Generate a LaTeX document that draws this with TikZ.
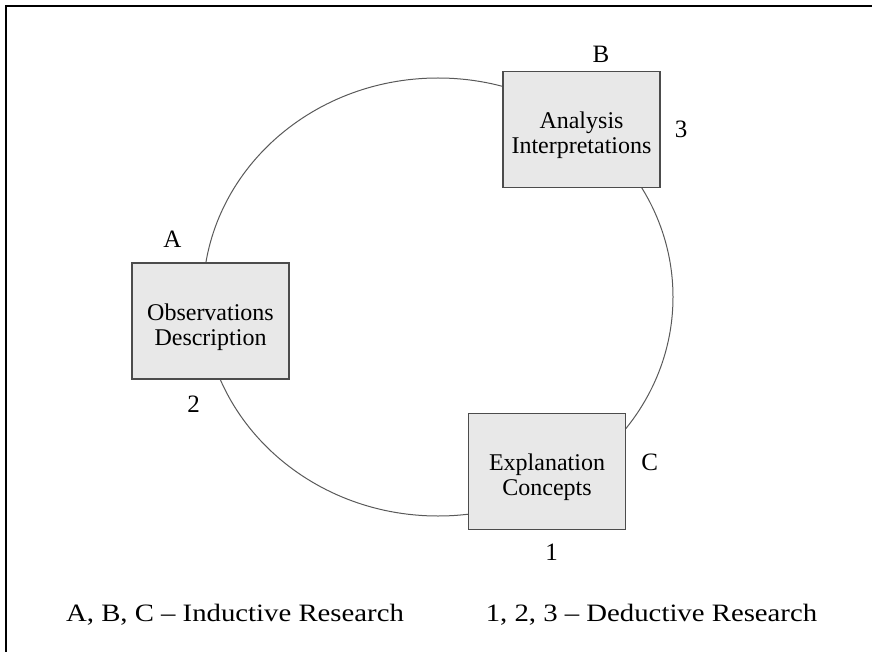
\documentclass[tikz,border=0pt]{standalone}
\usepackage{fontspec}
\setmainfont{Liberation Serif}
\newfontfamily\widefont[FakeStretch=1.15]{Liberation Serif}
\begin{document}
\begin{tikzpicture}[x=1pt,y=-1pt,
  stage/.style={draw=black!70, line width=1.2pt, fill=black!9,
    minimum width=157pt, minimum height=116pt, inner sep=0pt},
  stagetext/.style={align=center, inner sep=0pt,
    font=\fontsize{24}{25}\selectfont},
  tag/.style={inner sep=0pt, font=\fontsize{25}{30}\selectfont},
  legend/.style={inner sep=0pt, font=\widefont\fontsize{25}{30}\selectfont},
  cycle/.style={draw=black!65, line width=1pt}]
\useasboundingbox (0,0) rectangle (872,652);
\draw[line width=2pt] (5.7,652) -- (5.7,5.7) -- (872,5.7);
\draw[cycle] (438,297) ellipse [x radius=235, y radius=219];
\node[stage] (B) at (581.5,129.8) {};
\node[stage] (A) at (210.5,321) {};
\node[stage] (C) at (547,471.3) {};
\node[stagetext] (Bt) at ([yshift=-5pt]B.center) {Analysis\\Interpretations};
\node[stagetext] (At) at ([yshift=-6pt]A.center) {Observations\\Description};
\node[stagetext] (Ct) at ([yshift=-6pt]C.center) {Explanation\\Concepts};
\node[tag] (lB) at (601,54) {B};
\node[tag] (l3) at (681,129) {3};
\node[tag] (lA) at (172.4,239) {A};
\node[tag] (l2) at (193.5,404) {2};
\node[tag] (lC) at (649.6,462) {C};
\node[tag] (l1) at (551.7,552) {1};
\node[legend] (ind) at (235,615) {A, B, C – Inductive Research};
\node[legend] (ded) at (651.5,615) {1, 2, 3 – Deductive Research};
\end{tikzpicture}
\end{document}
